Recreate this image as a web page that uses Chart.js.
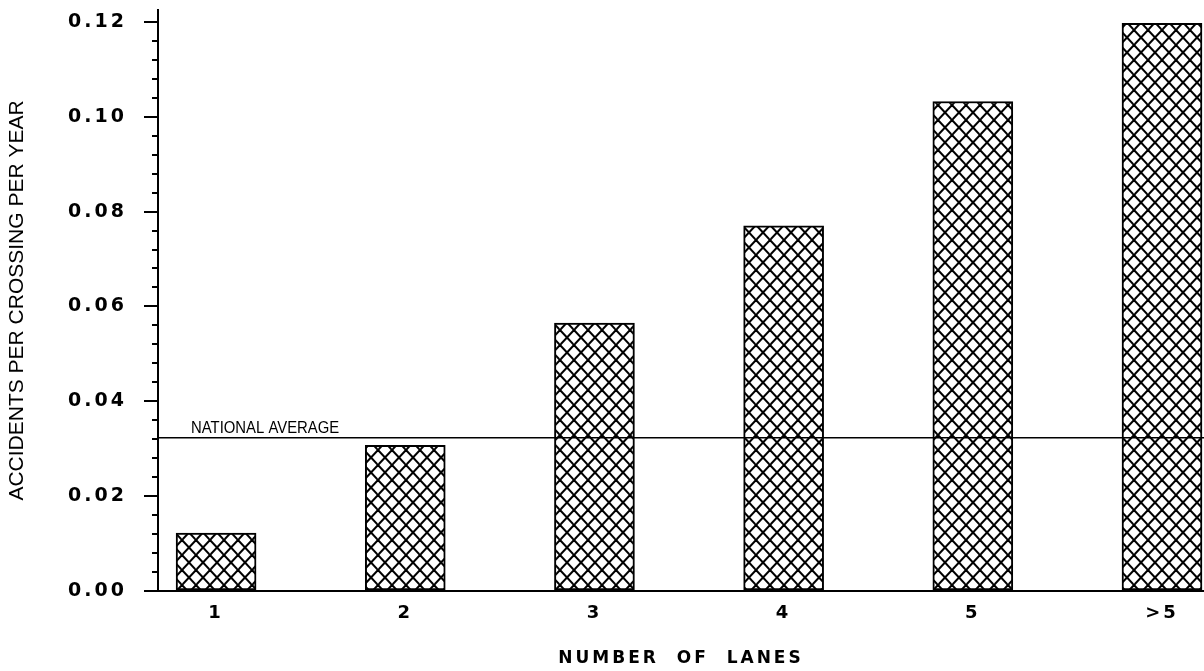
<!DOCTYPE html>
<html>
<head>
<meta charset="utf-8">
<script src="https://cdn.jsdelivr.net/npm/chart.js@4.4.1/dist/chart.umd.min.js"></script>
<style>
    html, body { margin: 0; padding: 0; background: #fff; }
    #wrap { width: 1204px; height: 671px; }
</style>
</head>
<body>
<div id="wrap"><canvas id="chart" width="1204" height="671"></canvas></div>
<script>
// lanes along the x axis
const lanePositions = [1, 2, 3, 4, 5, 6];
const laneLabels = ['1', '2', '3', '4', '5', '>5'];
// accidents per crossing per year
const accidentRates = [0.0122, 0.0307, 0.0565, 0.0770, 0.1032, 0.1197];

const nationalAverage = 0.0323;
const nationalLabel = 'NATIONAL AVERAGE';

// axis extents
const xMin = 0.693;
const xMax = 6.222;
const yMin = 0;
const yMax = 0.1225;
const yMajorStep = 0.02;
const yMinorStep = 0.004;

const plotterFont = '"DejaVu Sans", sans-serif';

// cross hatch used for every bar
function makeHatch() {
    const w = 14, h = 15;
    const c = document.createElement('canvas');
    c.width = w;
    c.height = h;
    const g = c.getContext('2d');
    g.fillStyle = '#fff';
    g.fillRect(0, 0, w, h);
    g.strokeStyle = '#000';
    g.lineWidth = 2;
    for (let k = -1; k <= 1; k++) {
        g.beginPath();
        g.moveTo(k * w - w, -h);
        g.lineTo(k * w + 2 * w, 2 * h);
        g.stroke();
        g.beginPath();
        g.moveTo(k * w + 2 * w, -h);
        g.lineTo(k * w - w, 2 * h);
        g.stroke();
    }
    return g.createPattern(c, 'repeat');
}

const isMajor = (v) => Math.round(v * 1000) % Math.round(yMajorStep * 1000) === 0;
const isMinor = (v) => Math.abs(v / yMinorStep - Math.round(v / yMinorStep)) < 1e-6;

// keep the plot area where the reference has it
const noEdgePadding = (scale) => {
    scale.paddingTop = 0;
    scale.paddingBottom = 0;
    scale.paddingLeft = 0;
    scale.paddingRight = 0;
};

const plotterText = {
    id: 'plotterText',
    beforeDraw(chart) {
        chart.ctx.letterSpacing = '3px';
        const y = chart.scales.y;
        if (!y._plainTitle) {
            const drawTitle = y.drawTitle.bind(y);
            y.drawTitle = function () {
                const c = this.ctx;
                c.save();
                c.letterSpacing = '0px';
                drawTitle();
                c.restore();
            };
            y._plainTitle = true;
        }
    },
    afterDatasetsDraw(chart) {
        const { ctx, chartArea, scales } = chart;
        const yPix = scales.y.getPixelForValue(nationalAverage);
        ctx.save();
        ctx.letterSpacing = '0px';
        ctx.font = '16px "Liberation Sans", sans-serif';
        ctx.fillStyle = '#000';
        ctx.textBaseline = 'alphabetic';
        ctx.translate(chartArea.left + 33, yPix - 5);
        ctx.scale(0.93, 1);
        ctx.fillText(nationalLabel, 0, 0);
        ctx.restore();
    }
};

new Chart(document.getElementById('chart'), {
    type: 'bar',
    data: {
        datasets: [{
            type: 'line',
            label: nationalLabel,
            data: [{ x: xMin, y: nationalAverage }, { x: xMax, y: nationalAverage }],
            borderColor: '#000',
            borderWidth: 1.5,
            pointRadius: 0,
            fill: false,
            order: 0
        }, {
            label: 'Accidents',
            data: lanePositions.map((x, i) => ({ x: x, y: accidentRates[i] })),
            backgroundColor: makeHatch(),
            borderColor: '#000',
            borderWidth: 2,
            borderSkipped: false,
            barThickness: 80,
            order: 1
        }]
    },
    options: {
        responsive: false,
        animation: false,
        layout: { padding: { top: 10, right: 0, bottom: 0, left: 0 } },
        plugins: {
            legend: { display: false },
            tooltip: { enabled: false }
        },
        scales: {
            x: {
                type: 'linear',
                offset: false,
                min: xMin,
                max: xMax,
                afterFit: (scale) => { scale.height = 80; noEdgePadding(scale); },
                grid: { display: false, drawTicks: false, offset: false },
                border: { display: true, color: '#000', width: 2 },
                ticks: {
                    stepSize: 1,
                    includeBounds: false,
                    autoSkip: false,
                    maxRotation: 0,
                    padding: 12,
                    color: '#000',
                    font: { family: plotterFont, size: 18, weight: 'bold' },
                    callback: (v) => Number.isInteger(v) && v >= 1 && v <= laneLabels.length ? laneLabels[v - 1] : ''
                },
                title: {
                    display: true,
                    text: 'NUMBER  OF  LANES',
                    color: '#000',
                    font: { family: plotterFont, size: 17, weight: 'bold' },
                    padding: { top: 0, bottom: 2 }
                }
            },
            y: {
                min: yMin,
                max: yMax,
                afterFit: (scale) => { scale.width = 158; noEdgePadding(scale); },
                grid: {
                    display: true,
                    drawOnChartArea: false,
                    drawTicks: true,
                    tickLength: 14,
                    lineWidth: 2,
                    tickWidth: 2,
                    tickColor: (ctx) => (ctx.tick && isMinor(ctx.tick.value)) ? '#000' : 'rgba(0,0,0,0)',
                    tickBorderDash: (ctx) => (ctx.tick && isMajor(ctx.tick.value)) ? [] : [0, 8, 5, 100]
                },
                border: { display: true, color: '#000', width: 2 },
                ticks: {
                    stepSize: yMinorStep,
                    includeBounds: false,
                    autoSkip: false,
                    padding: 17,
                    color: '#000',
                    font: { family: plotterFont, size: 19, weight: 'bold' },
                    callback: (v) => isMajor(v) ? v.toFixed(2) : ''
                },
                title: {
                    display: true,
                    text: 'ACCIDENTS PER CROSSING PER YEAR',
                    color: '#000',
                    font: { family: '"Liberation Sans", Arial, sans-serif', size: 21 },
                    padding: { top: 5, bottom: 0 }
                }
            }
        }
    },
    plugins: [plotterText]
});
</script>
</body>
</html>
